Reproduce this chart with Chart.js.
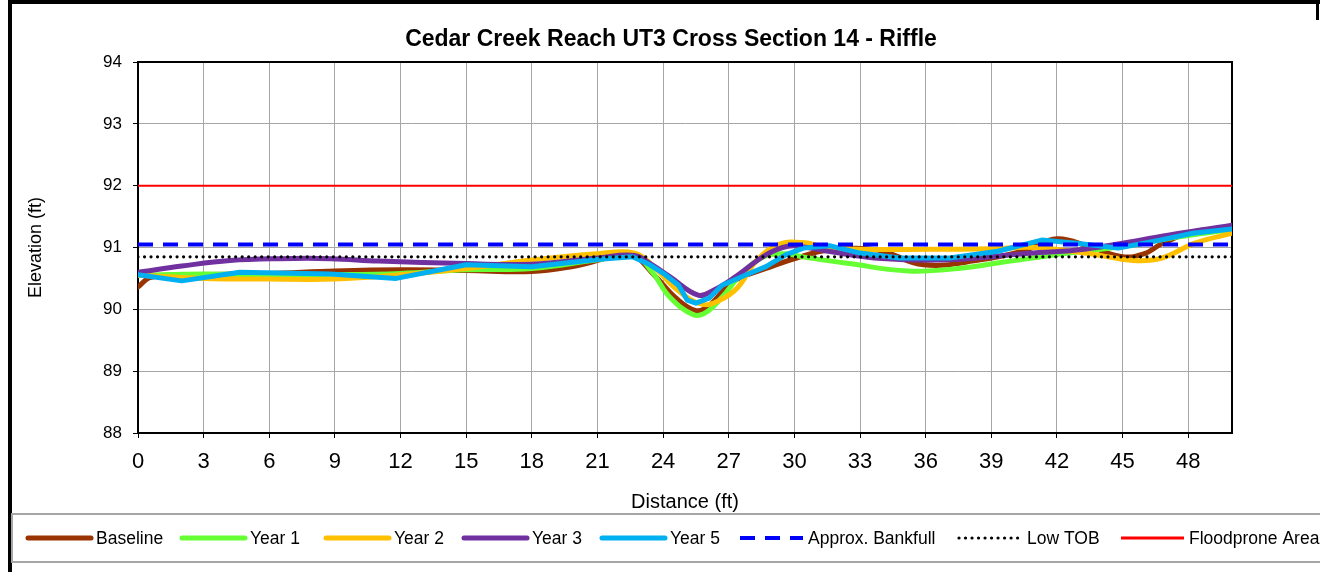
<!DOCTYPE html>
<html>
<head>
<meta charset="utf-8">
<title>Cedar Creek Reach UT3 Cross Section 14 - Riffle</title>
<script src="https://cdn.jsdelivr.net/npm/chart.js@4.4.0/dist/chart.umd.min.js"></script>
<style>
    html, body { margin: 0; padding: 0; background: #fff; }
    canvas { display: block; }
</style>
</head>
<body>
<canvas id="chartSecao" width="1320" height="572"></canvas>
<script>
// Levantamentos da secção transversal (distância em ft, cota em ft)
const baselineX = [0, 0.6, 3, 6, 9, 12, 15, 18, 20, 22.5, 23.6, 24.6, 25.5, 26.1, 27.2, 28.7, 30.1, 31.6, 33.8, 35.9, 38.5, 40.5, 42, 43.5, 45, 46, 46.8, 48.3, 50];
const baselineY = [90.36, 90.52, 90.56, 90.58, 90.62, 90.64, 90.63, 90.61, 90.7, 90.87, 90.55, 90.18, 89.98, 90.06, 90.45, 90.66, 90.83, 90.96, 90.96, 90.72, 90.8, 90.95, 91.14, 91.01, 90.85, 90.9, 91.06, 91.26, 91.32];

const year1X = [0, 3, 6, 9, 12, 15, 18, 21, 22.7, 23.5, 24.3, 25.4, 26, 26.7, 27.6, 28.6, 29.6, 30.5, 32.5, 35.2, 37.5, 39.5, 42.3, 45.3, 47.5, 50];
const year1Y = [90.55, 90.57, 90.56, 90.56, 90.58, 90.64, 90.66, 90.8, 90.87, 90.6, 90.2, 89.91, 89.96, 90.2, 90.58, 90.85, 90.9, 90.84, 90.74, 90.62, 90.66, 90.76, 90.9, 91.03, 91.17, 91.29];

const year2X = [0, 3, 6, 9, 12, 15, 18, 21, 22.7, 23.6, 24.7, 25.8, 26.6, 27.4, 28.3, 29.3, 30.4, 31.5, 33, 36, 39, 41, 43.5, 45.5, 46.8, 48.3, 50];
const year2Y = [90.55, 90.5, 90.49, 90.49, 90.56, 90.66, 90.8, 90.9, 90.91, 90.68, 90.3, 90.08, 90.15, 90.35, 90.8, 91.05, 91.08, 91.0, 90.97, 90.97, 90.98, 91.0, 90.9, 90.79, 90.83, 91.07, 91.23];

const year3X = [0, 2, 4.2, 6.5, 8.8, 11, 15, 18, 21, 22.7, 23.5, 24.3, 25.6, 26.3, 27.2, 28.7, 29.7, 30.6, 31.7, 34, 37, 40.5, 42.9, 45, 47.4, 50];
const year3Y = [90.6, 90.7, 90.79, 90.82, 90.82, 90.78, 90.74, 90.73, 90.83, 90.87, 90.72, 90.53, 90.23, 90.31, 90.5, 90.88, 91.02, 91.0, 90.93, 90.82, 90.8, 90.9, 90.96, 91.07, 91.22, 91.36];

const year5X = [0, 2, 4.65, 8.8, 11.8, 15, 18, 21.1, 22.6, 23.4, 24.1, 24.7, 25.1, 25.5, 26.1, 26.7, 27.8, 28.7, 29.6, 30.4, 31.6, 33, 34.8, 37.1, 39.3, 41.3, 42.9, 44.8, 46.7, 48.2, 50];
const year5Y = [90.56, 90.46, 90.6, 90.57, 90.5, 90.72, 90.69, 90.81, 90.85, 90.72, 90.56, 90.39, 90.15, 90.1, 90.18, 90.39, 90.56, 90.69, 90.88, 90.99, 91.03, 90.91, 90.83, 90.83, 90.94, 91.12, 91.07, 90.99, 91.12, 91.23, 91.3];

// Cotas de referência (linhas horizontais)
const refX = [0, 50];
const bankfullElev = 91.05;
const lowTobElev = 90.85;
const floodproneElev = 92;

const xTicks = [0, 50, 3];    // min, max, passo
const yTicks = [88, 94, 1];

const FONT = "'Liberation Sans', Arial, sans-serif";
const legendX = [28, 182, 326, 464, 602, 740, 959, 1121];

document.addEventListener('DOMContentLoaded', () => {
    renderCrossSection();
});

function pts(xs, ys) {
    return xs.map((x, i) => ({ x: x, y: ys[i] }));
}

function flat(elev) {
    return refX.map(x => ({ x: x, y: elev }));
}

// moldura, título e legenda à moda do Excel
const excelFrame = {
    id: 'excelFrame',
    beforeDraw(chart) {
        const ctx = chart.ctx;
        ctx.save();
        ctx.fillStyle = '#fff';
        ctx.fillRect(0, 0, chart.width, chart.height);
        ctx.fillStyle = '#000';
        ctx.fillRect(8, 0, chart.width - 8, 4);
        ctx.fillRect(8, 0, 4, chart.height);
        ctx.fillRect(chart.width - 4, 0, 3, 20);
        ctx.font = 'bold 23px ' + FONT;
        ctx.textAlign = 'center';
        ctx.textBaseline = 'middle';
        ctx.fillText('Cedar Creek Reach UT3 Cross Section 14 - Riffle', 671, 40);
        ctx.restore();
    },
    beforeDatasetsDraw(chart) {
        const { ctx, chartArea: a } = chart;
        ctx.save();
        ctx.strokeStyle = '#000';
        ctx.lineWidth = 2;
        ctx.beginPath();
        ctx.moveTo(a.left, a.top);
        ctx.lineTo(a.right, a.top);
        ctx.lineTo(a.right, a.bottom);
        ctx.stroke();
        ctx.restore();
    },
    afterDraw(chart) {
        const ctx = chart.ctx;
        ctx.save();
        ctx.strokeStyle = '#a6a6a6';
        ctx.lineWidth = 2;
        ctx.strokeRect(12, 514, chart.width + 20, 48);
        ctx.font = '17.5px ' + FONT;
        ctx.textBaseline = 'middle';
        ctx.fillStyle = '#000';
        chart.data.datasets.forEach((ds, i) => {
            const x = legendX[i];
            const y = 538;
            ctx.strokeStyle = ds.borderColor;
            ctx.lineWidth = ds.legendWidth;
            ctx.lineCap = ds.borderCapStyle || 'round';
            ctx.setLineDash(ds.borderDash || []);
            ctx.beginPath();
            ctx.moveTo(x, y);
            ctx.lineTo(x + 63, y);
            ctx.stroke();
            ctx.setLineDash([]);
            ctx.fillText(ds.label, x + 68, y + 1);
        });
        ctx.restore();
    }
};

function serie(label, xs, ys, color, tension) {
    return {
        label: label,
        data: pts(xs, ys),
        borderColor: color,
        backgroundColor: color,
        borderWidth: 5,
        legendWidth: 5,
        borderCapStyle: 'round',
        borderJoinStyle: 'round',
        tension: tension,
        pointRadius: 0
    };
}

function renderCrossSection() {
    const ctx = document.getElementById('chartSecao');

    const datasets = [
        serie('Baseline', baselineX, baselineY, '#993300', 0.4),
        serie('Year 1', year1X, year1Y, '#66ff33', 0.4),
        serie('Year 2', year2X, year2Y, '#ffc000', 0.4),
        serie('Year 3', year3X, year3Y, '#7030a0', 0.4),
        serie('Year 5', year5X, year5Y, '#00b0f0', 0),
        {
            label: 'Approx. Bankfull',
            data: flat(bankfullElev),
            borderColor: '#0000ff',
            borderWidth: 4,
            legendWidth: 4,
            borderDash: [15, 10],
            borderCapStyle: 'butt',
            pointRadius: 0
        },
        {
            label: 'Low TOB',
            data: flat(lowTobElev),
            borderColor: '#000',
            borderWidth: 3.2,
            legendWidth: 3.2,
            borderDash: [0.01, 6.5],
            borderCapStyle: 'round',
            pointRadius: 0
        },
        {
            label: 'Floodprone Area',
            data: flat(floodproneElev),
            borderColor: '#ff0000',
            borderWidth: 2,
            legendWidth: 3,
            borderCapStyle: 'butt',
            pointRadius: 0
        }
    ];
    // no Excel a última série fica por cima
    datasets.forEach((ds, i) => { ds.order = datasets.length - i; });

    new Chart(ctx, {
        type: 'line',
        data: { datasets: datasets },
        plugins: [excelFrame],
        options: {
            responsive: false,
            animation: false,
            devicePixelRatio: 1,
            layout: { padding: { top: 62, right: 88, left: 0, bottom: 0 } },
            plugins: {
                legend: { display: false },
                title: { display: false },
                tooltip: { enabled: false }
            },
            scales: {
                x: {
                    type: 'linear',
                    min: xTicks[0],
                    max: xTicks[1],
                    afterFit: s => { s.height = 139; },
                    ticks: {
                        stepSize: xTicks[2],
                        includeBounds: false,
                        maxRotation: 0,
                        autoSkip: false,
                        color: '#000',
                        padding: 11,
                        font: { family: FONT, size: 22 }
                    },
                    grid: { color: '#a6a6a6', lineWidth: 1, tickColor: '#000', tickLength: 5 },
                    border: { color: '#000', width: 2 },
                    title: {
                        display: true,
                        text: 'Distance (ft)',
                        color: '#000',
                        font: { family: FONT, size: 20 },
                        padding: { top: 0, bottom: 58 }
                    }
                },
                y: {
                    min: yTicks[0],
                    max: yTicks[1],
                    afterFit: s => { s.width = 138; },
                    ticks: {
                        stepSize: yTicks[2],
                        color: '#000',
                        padding: 11,
                        font: { family: FONT, size: 17 }
                    },
                    grid: { color: '#a6a6a6', lineWidth: 1, tickColor: '#000', tickLength: 5 },
                    border: { color: '#000', width: 2 },
                    title: {
                        display: true,
                        text: 'Elevation (ft)',
                        color: '#000',
                        font: { family: FONT, size: 18 },
                        padding: { top: 25, bottom: 0 }
                    }
                }
            }
        }
    });
}
</script>
</body>
</html>
